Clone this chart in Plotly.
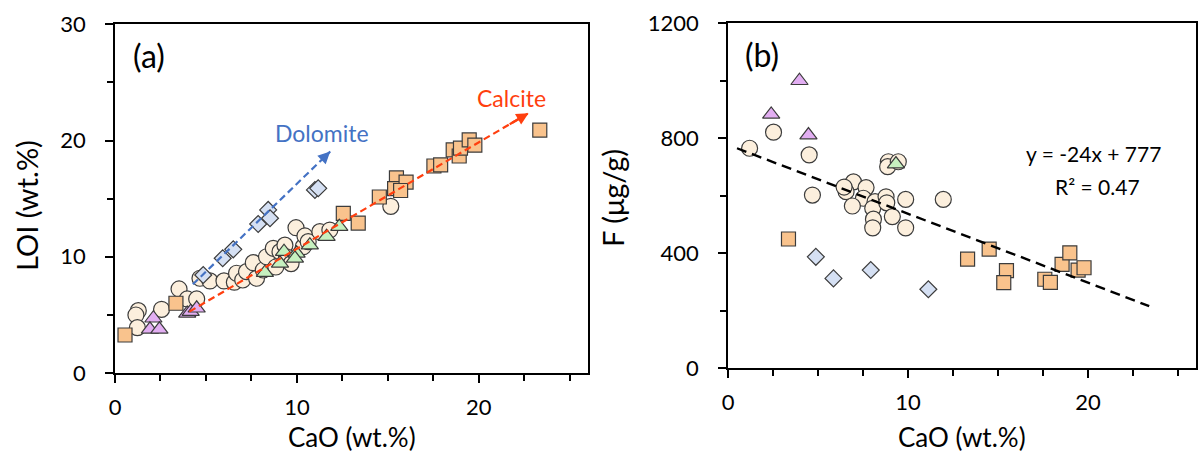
import plotly.graph_objects as go

# ---------------- data: panel (a) CaO vs LOI ----------------
a_circle_cao = [1.28, 1.15, 1.23, 2.56, 3.52, 3.97, 4.49, 4.67, 5.22, 5.99, 6.56, 6.68, 7.02, 7.23,
                7.60, 7.78, 8.15, 8.33, 8.70, 9.07, 9.34, 9.43, 9.95, 10.35, 10.44, 10.62, 11.26,
                11.81, 15.16, 8.84, 9.68]
a_circle_loi = [5.36, 4.99, 3.90, 5.48, 7.23, 6.37, 6.37, 8.15, 7.92, 7.92, 7.81, 8.58, 8.00, 8.72,
                9.49, 8.15, 8.86, 10.00, 10.73, 10.44, 11.00, 10.00, 12.50, 10.87, 11.79, 11.30, 12.16,
                12.30, 14.34, 9.12, 9.41]

a_square_cao = [0.55, 3.35, 12.55, 13.37, 14.53, 15.47, 15.37, 16.00, 15.70, 17.53, 17.90, 18.59,
                18.92, 18.99, 19.47, 19.78, 23.35]
a_square_loi = [3.27, 6.00, 13.74, 12.90, 15.14, 16.78, 15.86, 16.43, 15.70, 17.81, 17.90, 19.19,
                18.67, 19.34, 20.05, 19.60, 20.90]

a_diamond_cao = [4.85, 5.92, 6.50, 7.87, 8.42, 8.52, 10.99, 11.17]
a_diamond_loi = [8.43, 9.87, 10.64, 12.82, 14.03, 13.31, 15.75, 15.89]

a_purple_cao = [2.11, 1.92, 2.44, 3.97, 4.16, 4.49]
a_purple_loi = [4.71, 3.76, 3.76, 5.13, 5.28, 5.57]

a_green_cao = [8.24, 9.07, 9.29, 9.98, 9.89, 10.71, 11.63, 12.33]
a_green_loi = [8.63, 9.44, 10.44, 10.30, 9.87, 11.00, 11.73, 12.59]

# trend arrows in panel (a): [start, tip]
dolomite_arrow_cao = [4.28, 11.83]
dolomite_arrow_loi = [7.63, 19.05]
calcite_arrow_cao = [4.09, 22.73]
calcite_arrow_loi = [5.28, 22.35]

# ---------------- data: panel (b) CaO vs F ----------------
b_circle_cao = [1.20, 2.53, 4.51, 4.69, 6.97, 6.56, 7.67, 7.52, 6.91, 8.17, 8.04, 8.08, 8.04, 8.78,
                8.82, 9.13, 9.87, 9.87, 11.96, 8.91, 8.87, 9.46, 6.45]
b_circle_f = [765, 821, 742, 602, 648, 614, 628, 591, 564, 579, 556, 518, 488, 596,
              575, 527, 587, 488, 587, 718, 701, 718, 630]

b_square_cao = [3.36, 13.31, 14.51, 15.47, 15.32, 17.60, 17.91, 18.56, 18.99, 19.45, 19.78]
b_square_f = [449, 379, 414, 339, 297, 309, 298, 361, 401, 341, 349]

b_diamond_cao = [4.88, 5.86, 7.93, 11.13]
b_diamond_f = [387, 312, 341, 274]

b_purple_cao = [3.97, 2.40, 4.47]
b_purple_f = [1000, 883, 811]

b_green_cao = [9.33]
b_green_f = [710]

fit_slope = -24
fit_intercept = 777
fit_cao_range = [0.5, 23.4]

x_ticks = [0, 10, 20]
a_y_ticks = [0, 10, 20, 30]
b_y_ticks = [0, 400, 800, 1200]

# ---------------- styles ----------------
W, H = 1198, 454
FONT = "Lato"
EDGE = "#3c3c3c"
C_CIRCLE = "#FCEFDD"
C_SQUARE = "#F9C38D"
C_DIAMOND = "#D5E0F3"
C_PURPLE = "#E2AEF2"
C_GREEN = "#C6F0BF"
C_BLUE = "#4472C4"
C_RED = "#FF3F0F"


def px(x):
    return x / W


def py(y):
    return 1 - y / H


fig = go.Figure()


def add_markers(xs, ys, symbol, color, size, xa, ya):
    fig.add_trace(go.Scatter(
        x=xs, y=ys, mode="markers", xaxis=xa, yaxis=ya, showlegend=False,
        marker=dict(symbol=symbol, color=color, size=size,
                    line=dict(color=EDGE, width=1.2)),
        hoverinfo="x+y"))


# panel (a) markers
add_markers(a_circle_cao, a_circle_loi, "circle", C_CIRCLE, 16, "x", "y")
add_markers(a_square_cao, a_square_loi, "square", C_SQUARE, 14, "x", "y")
add_markers(a_diamond_cao, a_diamond_loi, "diamond", C_DIAMOND, 13, "x", "y")
add_markers(a_purple_cao, a_purple_loi, "triangle-up", C_PURPLE, 15, "x", "y")
add_markers(a_green_cao, a_green_loi, "triangle-up", C_GREEN, 15, "x", "y")

# dashed trend lines in (a), drawn above the markers
fig.add_trace(go.Scatter(x=dolomite_arrow_cao, y=dolomite_arrow_loi, mode="lines",
                         line=dict(color=C_BLUE, width=2.2, dash="7px,4px"),
                         xaxis="x", yaxis="y", showlegend=False, hoverinfo="skip"))
fig.add_trace(go.Scatter(x=calcite_arrow_cao, y=calcite_arrow_loi, mode="lines",
                         line=dict(color=C_RED, width=2.2, dash="7px,4px"),
                         xaxis="x", yaxis="y", showlegend=False, hoverinfo="skip"))

# panel (b)
add_markers(b_circle_cao, b_circle_f, "circle", C_CIRCLE, 16, "x2", "y2")
add_markers(b_square_cao, b_square_f, "square", C_SQUARE, 14, "x2", "y2")
add_markers(b_diamond_cao, b_diamond_f, "diamond", C_DIAMOND, 13, "x2", "y2")
add_markers(b_purple_cao, b_purple_f, "triangle-up", C_PURPLE, 15, "x2", "y2")
add_markers(b_green_cao, b_green_f, "triangle-up", C_GREEN, 15, "x2", "y2")

fit_f = [fit_slope * c + fit_intercept for c in fit_cao_range]
fig.add_trace(go.Scatter(x=fit_cao_range, y=fit_f, mode="lines",
                         line=dict(color="black", width=2.4, dash="10px,6px"),
                         xaxis="x2", yaxis="y2", showlegend=False, hoverinfo="skip"))


def xaxis_cfg(domain, anchor):
    return dict(domain=domain, anchor=anchor, range=[0, 26], tickvals=x_ticks,
                showgrid=False, zeroline=False, showline=True, linecolor="black",
                linewidth=1.6, mirror=True, ticks="outside", ticklen=8, tickwidth=1.6,
                tickcolor="black", ticklabelstandoff=6,
                tickfont=dict(family=FONT, size=22, color="black"),
                minor=dict(dtick=2.5, tick0=0, ticks="outside", ticklen=6,
                           tickwidth=1.6, tickcolor="black"))


def yaxis_cfg(domain, anchor, rng, ticks, minor_step):
    return dict(domain=domain, anchor=anchor, range=rng, tickvals=ticks,
                showgrid=False, zeroline=False, showline=True, linecolor="black",
                linewidth=1.6, mirror=True, ticks="outside", ticklen=8, tickwidth=1.6,
                tickcolor="black", ticklabelstandoff=15,
                tickfont=dict(family=FONT, size=22, color="black"),
                minor=dict(dtick=minor_step, tick0=0, ticks="outside", ticklen=6,
                           tickwidth=1.6, tickcolor="black"))


fig.update_layout(
    width=W, height=H, margin=dict(l=0, r=0, t=0, b=0, pad=0, autoexpand=False),
    paper_bgcolor="white", plot_bgcolor="white",
    font=dict(family=FONT, color="black"),
    xaxis=xaxis_cfg([px(115), px(588)], "y"),
    yaxis=yaxis_cfg([py(373), py(24.3)], "x", [0, 30], a_y_ticks, 5),
    xaxis2=xaxis_cfg([px(728), px(1196)], "y2"),
    yaxis2=yaxis_cfg([py(368), py(23.3)], "x2", [0, 1200], b_y_ticks, 200),
)

# arrowheads for the trend arrows
for cx, cy, col in [(dolomite_arrow_cao, dolomite_arrow_loi, C_BLUE),
                    (calcite_arrow_cao, calcite_arrow_loi, C_RED)]:
    tx, ty = cx[1], cy[1]
    bx = tx - 0.06 * (cx[1] - cx[0])
    by = ty - 0.06 * (cy[1] - cy[0])
    fig.add_annotation(x=tx, y=ty, ax=bx, ay=by, xref="x", yref="y", axref="x", ayref="y",
                       showarrow=True, arrowhead=2, arrowsize=1.1, arrowwidth=2.2,
                       arrowcolor=col, text="", standoff=0)

texts = [
    ("(a)", 148.5, 56, 32, "black", 0),
    ("(b)", 762, 55, 32, "black", 0),
    ("Dolomite", 322, 133, 23, C_BLUE, 0),
    ("Calcite", 511.5, 98.5, 23, C_RED, 0),
    ("CaO (wt.%)", 351.5, 437, 26, "black", 0),
    ("CaO (wt.%)", 962, 437, 26, "black", 0),
    ("LOI (wt.%)", 26, 206, 29, "black", -90),
    ("F (μg/g)", 612, 198, 29, "black", -90),
    ("y = -24x + 777", 1093, 153, 21, "black", 0),
    ("R² = 0.47", 1097, 186, 21, "black", 0),
]
for t, x, y, s, c, ang in texts:
    fig.add_annotation(text=t, x=px(x), y=py(y), xref="paper", yref="paper",
                       showarrow=False, xanchor="center", yanchor="middle",
                       textangle=ang, font=dict(family=FONT, size=s, color=c))

fig.write_html("out.html", config={"displayModeBar": False},
               post_script="document.body.style.margin='0px';"
                           "document.documentElement.style.overflow='hidden';")
